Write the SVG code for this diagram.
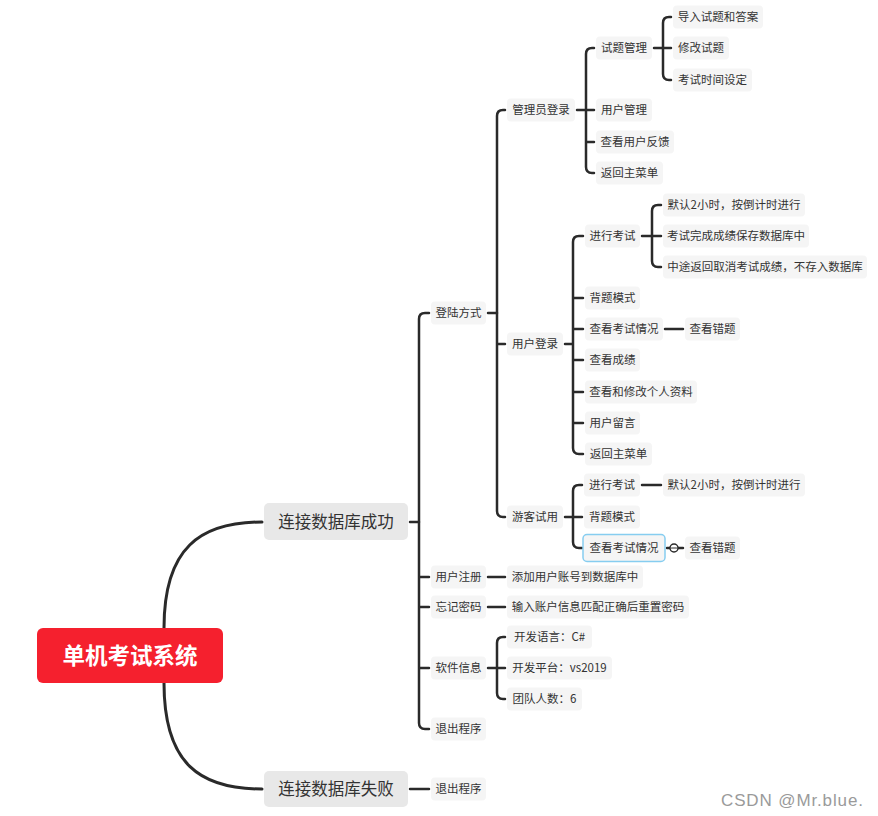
<svg xmlns="http://www.w3.org/2000/svg" width="878" height="816" viewBox="0 0 878 816">
<style>
.b{fill:#f5f5f5}
.t{font-family:"Noto Sans CJK SC","Noto Sans",sans-serif;font-size:11.5px;fill:#333;text-anchor:middle}
.L1 rect{fill:#e8e8e8}
.L1 text{font-family:"Noto Sans CJK SC","Noto Sans",sans-serif;font-size:16.5px;fill:#333;text-anchor:middle}
.c{fill:none;stroke:#2a2a2a;stroke-width:2.5;stroke-linecap:round;stroke-linejoin:round}
</style>
<rect width="878" height="816" fill="#fff"/>
<g id="connectors" class="c">
<path d="M164,628 C164,548 200,522 262,522" stroke-width="3"/>
<path d="M164,683 C164,764 200,789 262,789" stroke-width="3"/>
<path d="M410,522 H419"/>
<path d="M429,313 H425 Q419,313 419,319 V723 Q419,729 425,729 H429 M419,577 H429 M419,607 H429 M419,668 H429"/>
<path d="M410,789 H429"/>
<path d="M488,313 H497"/>
<path d="M505,110 H503 Q497,110 497,116 V511 Q497,517 503,517 H505 M497,344 H505"/>
<path d="M488,577 H505 M488,607 H505"/>
<path d="M488,668 H497 M505,637 H503 Q497,637 497,643 V693 Q497,699 503,699 H505 M497,668 H505"/>
<path d="M577,110 H586 M594,48 H592 Q586,48 586,54 V167 Q586,173 592,173 H594 M586,110 H594 M586,142 H594"/>
<path d="M654,48 H663 M671,17 H669 Q663,17 663,23 V74 Q663,80 669,80 H671 M663,48 H671"/>
<path d="M565,344 H573 M583,236 H579 Q573,236 573,242 V448 Q573,454 579,454 H583 M573,298 H583 M573,329 H583 M573,360 H583 M573,392 H583 M573,423 H583"/>
<path d="M642,236 H652 M661,205 H658 Q652,205 652,211 V261 Q652,267 658,267 H661 M652,236 H661"/>
<path d="M665,329 H683"/>
<path d="M565,517 H573 M582,485 H579 Q573,485 573,491 V542 Q573,548 579,548 H582 M573,517 H582"/>
<path d="M642,485 H661"/>
<path d="M667,548 H670 M678,548 H683"/>
<circle cx="674" cy="548" r="4" stroke-width="1.5" fill="#fff"/>
<path d="M671.5,548 H676.5" stroke-width="1.2"/>
</g>
<g id="root"><rect x="37" y="628" width="186" height="55" rx="6" fill="#f5202e"/><text x="130" y="663.5" font-family="'Noto Sans CJK SC','Noto Sans',sans-serif" font-size="22.5" font-weight="bold" fill="#fff" text-anchor="middle">单机考试系统</text></g>
<g id="n_success" class="L1"><rect x="264" y="503" width="144" height="37" rx="5"/><text x="336" y="528">连接数据库成功</text></g>
<g id="n_fail" class="L1"><rect x="264" y="771" width="144" height="36" rx="5"/><text x="336" y="795">连接数据库失败</text></g>
<g id="n_login"><rect class="b" x="431" y="301.5" width="55" height="23" rx="4"/><text class="t" x="458.5" y="317">登陆方式</text></g>
<g id="n_reg"><rect class="b" x="431" y="565.5" width="55" height="23" rx="4"/><text class="t" x="458.5" y="581">用户注册</text></g>
<g id="n_forget"><rect class="b" x="431" y="595.5" width="55" height="23" rx="4"/><text class="t" x="458.5" y="611">忘记密码</text></g>
<g id="n_info"><rect class="b" x="431" y="656.5" width="55" height="23" rx="4"/><text class="t" x="458.5" y="672">软件信息</text></g>
<g id="n_exit1"><rect class="b" x="431" y="717.5" width="55" height="23" rx="4"/><text class="t" x="458.5" y="733">退出程序</text></g>
<g id="n_exit2"><rect class="b" x="431" y="777.5" width="55" height="23" rx="4"/><text class="t" x="458.5" y="793">退出程序</text></g>
<g id="n_admin"><rect class="b" x="507" y="98.5" width="68" height="23" rx="4"/><text class="t" x="541" y="114">管理员登录</text></g>
<g id="n_user"><rect class="b" x="507" y="332.5" width="56" height="23" rx="4"/><text class="t" x="535" y="348">用户登录</text></g>
<g id="n_guest"><rect class="b" x="507" y="505.5" width="56" height="23" rx="4"/><text class="t" x="535" y="521">游客试用</text></g>
<g id="n_addacc"><rect class="b" x="507" y="565.5" width="136" height="23" rx="4"/><text class="t" x="575" y="581">添加用户账号到数据库中</text></g>
<g id="n_reset"><rect class="b" x="507" y="595.5" width="182" height="23" rx="4"/><text class="t" x="598" y="611">输入账户信息匹配正确后重置密码</text></g>
<g id="n_lang"><rect class="b" x="507" y="625.5" width="85" height="23" rx="4"/><text class="t" x="549.5" y="641">开发语言：C#</text></g>
<g id="n_plat"><rect class="b" x="507" y="656.5" width="105" height="23" rx="4"/><text class="t" x="559.5" y="672">开发平台：vs2019</text></g>
<g id="n_team"><rect class="b" x="507" y="687.5" width="75" height="23" rx="4"/><text class="t" x="544.5" y="703">团队人数：6</text></g>
<g id="n_qmgr"><rect class="b" x="596" y="36.5" width="56" height="23" rx="4"/><text class="t" x="624" y="52">试题管理</text></g>
<g id="n_umgr"><rect class="b" x="596" y="98.5" width="56" height="23" rx="4"/><text class="t" x="624" y="114">用户管理</text></g>
<g id="n_fb"><rect class="b" x="596" y="130.5" width="78" height="23" rx="4"/><text class="t" x="635" y="146">查看用户反馈</text></g>
<g id="n_back1"><rect class="b" x="596" y="161.5" width="67" height="23" rx="4"/><text class="t" x="629.5" y="177">返回主菜单</text></g>
<g id="n_import"><rect class="b" x="673" y="5.5" width="90" height="23" rx="4"/><text class="t" x="718" y="21">导入试题和答案</text></g>
<g id="n_edit"><rect class="b" x="673" y="36.5" width="56" height="23" rx="4"/><text class="t" x="701" y="52">修改试题</text></g>
<g id="n_time"><rect class="b" x="673" y="68.5" width="79" height="23" rx="4"/><text class="t" x="712.5" y="84">考试时间设定</text></g>
<g id="n_exam"><rect class="b" x="585" y="224.5" width="55" height="23" rx="4"/><text class="t" x="612.5" y="240">进行考试</text></g>
<g id="n_recite"><rect class="b" x="585" y="286.5" width="55" height="23" rx="4"/><text class="t" x="612.5" y="302">背题模式</text></g>
<g id="n_view"><rect class="b" x="585" y="317.5" width="78" height="23" rx="4"/><text class="t" x="624" y="333">查看考试情况</text></g>
<g id="n_wrong"><rect class="b" x="685" y="317.5" width="55" height="23" rx="4"/><text class="t" x="712.5" y="333">查看错题</text></g>
<g id="n_score"><rect class="b" x="585" y="348.5" width="55" height="23" rx="4"/><text class="t" x="612.5" y="364">查看成绩</text></g>
<g id="n_profile"><rect class="b" x="585" y="380.5" width="112" height="23" rx="4"/><text class="t" x="641" y="396">查看和修改个人资料</text></g>
<g id="n_msg"><rect class="b" x="585" y="411.5" width="55" height="23" rx="4"/><text class="t" x="612.5" y="427">用户留言</text></g>
<g id="n_back2"><rect class="b" x="585" y="442.5" width="67" height="23" rx="4"/><text class="t" x="618.5" y="458">返回主菜单</text></g>
<g id="n_default1"><rect class="b" x="663" y="193.5" width="142" height="23" rx="4"/><text class="t" x="734" y="209">默认2小时，按倒计时进行</text></g>
<g id="n_save"><rect class="b" x="663" y="224.5" width="146" height="23" rx="4"/><text class="t" x="736" y="240">考试完成成绩保存数据库中</text></g>
<g id="n_cancel"><rect class="b" x="663" y="255.5" width="204" height="23" rx="4"/><text class="t" x="765" y="271">中途返回取消考试成绩，不存入数据库</text></g>
<g id="n_gexam"><rect class="b" x="584" y="473.5" width="56" height="23" rx="4"/><text class="t" x="612" y="489">进行考试</text></g>
<g id="n_gdefault"><rect class="b" x="663" y="473.5" width="142" height="23" rx="4"/><text class="t" x="734" y="489">默认2小时，按倒计时进行</text></g>
<g id="n_grecite"><rect class="b" x="584" y="505.5" width="56" height="23" rx="4"/><text class="t" x="612" y="521">背题模式</text></g>
<g id="n_gview"><rect x="583" y="534.5" width="82" height="27" rx="4" fill="#f5f5f5" stroke="#86cdf0" stroke-width="1.5"/><text class="t" x="624" y="552">查看考试情况</text></g>
<g id="n_gwrong"><rect class="b" x="685" y="536.5" width="55" height="23" rx="4"/><text class="t" x="712.5" y="552">查看错题</text></g>
<text x="721" y="806" font-family="'Liberation Sans',Arial,sans-serif" font-size="17" fill="#9a9a9a" textLength="142" lengthAdjust="spacing">CSDN @Mr.blue.</text>
</svg>
